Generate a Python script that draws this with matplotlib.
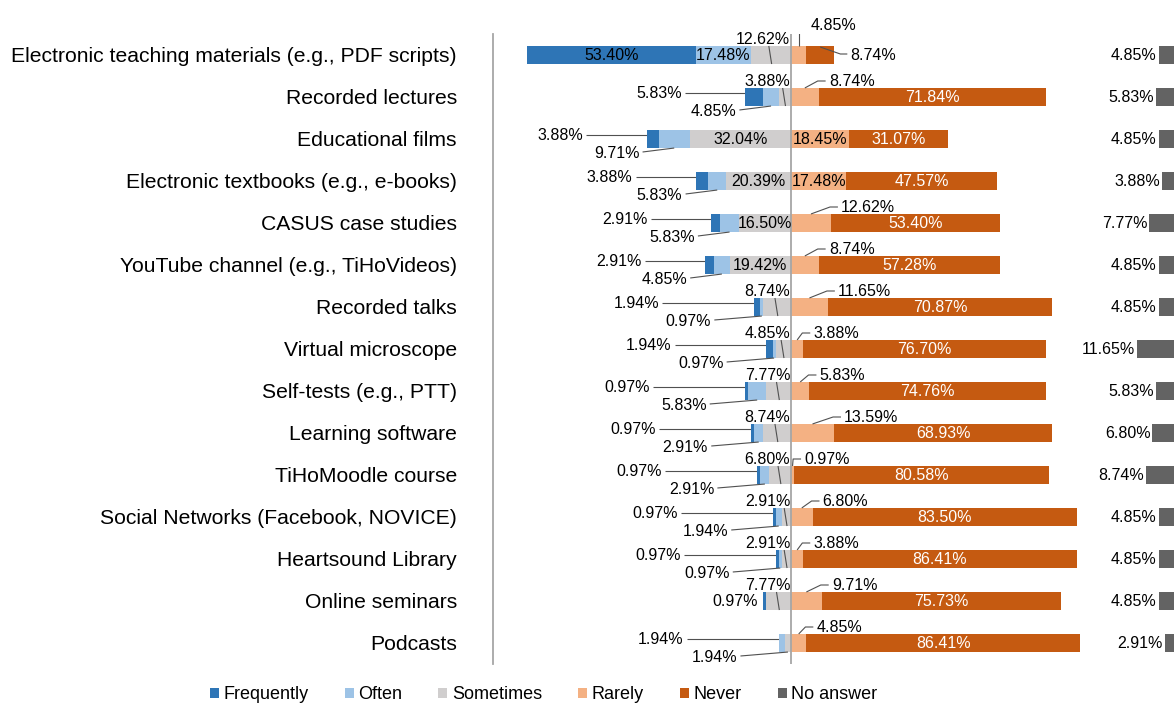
import numpy as np
import matplotlib.pyplot as plt
from matplotlib.patches import Patch

plt.rcParams['font.family'] = ['Liberation Sans', 'DejaVu Sans']

categories = [
    'Electronic teaching materials (e.g., PDF scripts)',
    'Recorded lectures',
    'Educational films',
    'Electronic textbooks (e.g., e-books)',
    'CASUS case studies',
    'YouTube channel (e.g., TiHoVideos)',
    'Recorded talks',
    'Virtual microscope',
    'Self-tests (e.g., PTT)',
    'Learning software',
    'TiHoMoodle course',
    'Social Networks (Facebook, NOVICE)',
    'Heartsound Library',
    'Online seminars',
    'Podcasts',
]
frequently = [53.40, 5.83, 3.88, 3.88, 2.91, 2.91, 1.94, 1.94, 0.97, 0.97, 0.97, 0.97, 0.97, 0.97, 0.00]
often      = [17.48, 4.85, 9.71, 5.83, 5.83, 4.85, 0.97, 0.97, 5.83, 2.91, 2.91, 1.94, 0.97, 0.00, 1.94]
sometimes  = [12.62, 3.88, 32.04, 20.39, 16.50, 19.42, 8.74, 4.85, 7.77, 8.74, 6.80, 2.91, 2.91, 7.77, 1.94]
rarely     = [4.85, 8.74, 18.45, 17.48, 12.62, 8.74, 11.65, 3.88, 5.83, 13.59, 0.97, 6.80, 3.88, 9.71, 4.85]
never      = [8.74, 71.84, 31.07, 47.57, 53.40, 57.28, 70.87, 76.70, 74.76, 68.93, 80.58, 83.50, 86.41, 75.73, 86.41]
no_answer  = [4.85, 5.83, 4.85, 3.88, 7.77, 4.85, 4.85, 11.65, 5.83, 6.80, 8.74, 4.85, 4.85, 4.85, 2.91]

series_names = ['Frequently', 'Often', 'Sometimes', 'Rarely', 'Never', 'No answer']
colors = ['#2E75B6', '#9DC3E6', '#D0CECE', '#F4B183', '#C55A11', '#636363']

# where each data label goes (Frequently, Often, Sometimes, Rarely, Never)
placement = [
    ['in', 'in', 'up', 'ur2', 'r'],
    ['ul', 'll', 'up', 'ur', 'in'],
    ['ul', 'll', 'in', 'in', 'in'],
    ['ul', 'll', 'in', 'in', 'in'],
    ['ul', 'll', 'in', 'ur', 'in'],
    ['ul', 'll', 'in', 'ur', 'in'],
    ['ul', 'll', 'up', 'ur', 'in'],
    ['ul', 'll', 'up', 'ur', 'in'],
    ['ul', 'll', 'up', 'ur', 'in'],
    ['ul', 'll', 'up', 'ur', 'in'],
    ['ul', 'll', 'up', 'ur', 'in'],
    ['ul', 'll', 'up', 'ur', 'in'],
    ['ul', 'll', 'up', 'ur', 'in'],
    ['l', '', 'up', 'ur', 'in'],
    ['', 'ul', 'll', 'ur', 'in'],
]

X_MIN, X_MAX = -94.15, 121.0
PX = 1 / 3.165   # percent per pixel
PY = 1 / 42.0    # rows per pixel
BAR_H = 0.43
LBL = 11.5
LINE_C = '#505050'

fig = plt.figure(figsize=(11.74, 7.04), dpi=100)
ax = fig.add_axes([493 / 1174, 1 - 664 / 704, (1174 - 493) / 1174, 630 / 704])

y = np.arange(len(categories))
F = np.array(frequently)
O = np.array(often)
S = np.array(sometimes)
R = np.array(rarely)
N = np.array(never)
NA = np.array(no_answer)

# segment starts (left edges)
lefts = [-(F + O + S), -(O + S), -S, np.zeros_like(R), R]
widths = [F, O, S, R, N]
for k in range(5):
    ax.barh(y, widths[k], left=lefts[k], height=BAR_H, color=colors[k], zorder=2)
ax.barh(y, NA, left=X_MAX - NA, height=BAR_H, color=colors[5], zorder=2)


def line(xs, ys, z=3):
    ax.plot(xs, ys, color=LINE_C, lw=0.8, zorder=z, solid_capstyle='butt')


for i in range(len(categories)):
    compact = i >= 6
    bar_left = lefts[0][i]
    for k in range(5):
        v = widths[k][i]
        p = placement[i][k]
        if v <= 0 or p == '':
            continue
        txt = f'{v:.2f}%'
        s0 = lefts[k][i]
        s1 = s0 + v
        c = (s0 + s1) / 2
        yi = y[i]
        if p == 'in':
            ax.text(c, yi, txt, ha='center', va='center', fontsize=LBL,
                    color='white' if k == 4 else 'black', zorder=5)
        elif p == 'ul':
            tx = bar_left - (30 if compact else 20)
            ty = yi - 4 * PY
            ax.text(tx, ty, txt, ha='right', va='center', fontsize=LBL, zorder=5)
            line([tx + 1.0, c], [ty, ty], z=1)
        elif p == 'll':
            tx = c - (16 if compact else 11)
            ty = yi + 14 * PY
            ax.text(tx, ty, txt, ha='right', va='center', fontsize=LBL, zorder=5)
            line([tx + 1.0, c], [ty - 1 * PY, yi + BAR_H / 2])
        elif p == 'l':
            ax.text(s0 - 1.6, yi, txt, ha='right', va='center', fontsize=LBL, zorder=5)
        elif p == 'up':
            ty = yi - 16 * PY
            ax.text(-0.2, ty, txt, ha='right', va='center', fontsize=LBL, zorder=5)
            line([c - 0.7, c + 0.2], [ty + 7 * PY, yi + BAR_H / 2], z=4)
        elif p == 'ur':
            tx = s1 + 3.2
            ty = yi - 16 * PY
            ax.text(tx, ty, txt, ha='left', va='center', fontsize=LBL, zorder=5)
            line([c, tx - 3.5, tx - 1.0], [yi - BAR_H / 2, ty, ty], z=4)
        elif p == 'ur2':
            tx = c + 3.8
            ty = yi - 29 * PY
            ax.text(tx, ty, txt, ha='left', va='center', fontsize=LBL, zorder=5)
            line([c, c, tx - 1.2], [yi - BAR_H / 2, ty, ty], z=4)
        elif p == 'r':
            tx = s1 + 5.0
            ax.text(tx, yi, txt, ha='left', va='center', fontsize=LBL, zorder=5)
            line([c, tx - 3.0, tx - 0.8], [yi - 8 * PY, yi - 1 * PY, yi - 1 * PY], z=4)
    ax.text(X_MAX - NA[i] - 0.6, y[i], f'{NA[i]:.2f}%', ha='right', va='center',
            fontsize=LBL, zorder=5)

ax.axvline(0, color='#A6A6A6', lw=1.3, zorder=4)
ax.set_xlim(X_MIN, X_MAX)
ax.set_ylim(len(categories) - 0.5, -0.5)
ax.set_yticks(y)
ax.set_yticklabels(categories, fontsize=15.2)
ax.tick_params(axis='y', length=0, pad=26)
ax.set_xticks([])
for sp in ['top', 'right', 'bottom']:
    ax.spines[sp].set_visible(False)
ax.spines['left'].set_color('#A6A6A6')
ax.spines['left'].set_linewidth(1.3)

handles = [Patch(facecolor=c, edgecolor='none') for c in colors]
fig.legend(handles, series_names, loc='lower center', bbox_to_anchor=(0.463, -0.012),
           ncol=6, frameon=False, fontsize=13, handlelength=0.5, handleheight=0.5,
           handletextpad=0.25, columnspacing=2.0, borderpad=0)

fig.savefig('out.png', dpi=100)
